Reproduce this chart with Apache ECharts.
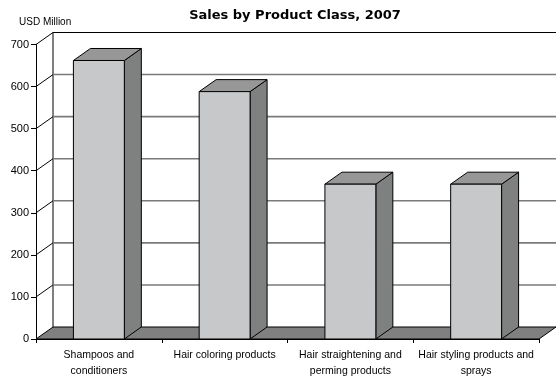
<!DOCTYPE html>
<html><head><meta charset="utf-8">
<script src="https://cdn.jsdelivr.net/npm/echarts@6.0.0/dist/echarts.min.js"></script>
<style>html,body{margin:0;padding:0;background:#fff}#c{width:556px;height:379px}</style>
</head><body><div id="c"></div>
<script>
const categories = ['Shampoos and\nconditioners', 'Hair coloring products', 'Hair straightening and\nperming products', 'Hair styling products and\nsprays'];
const sales = [662, 588, 368, 368];
const yTicks = [0, 100, 200, 300, 400, 500, 600, 700];
const titleText = 'Sales by Product Class, 2007';
const unitText = 'USD Million';

const DX = 17, DY = -12;
const chart = echarts.init(document.getElementById('c'));

function wallItem(params, api) {
  const v = api.value(1);
  const bw = api.size([1, 0])[0];
  const p = api.coord([0, v]);
  const left = p[0] - bw / 2;
  const right = api.coord([categories.length - 1, v])[0] + bw / 2;
  const y = p[1];
  const children = [];
  if (v === 0) {
    const yTop = api.coord([0, yTicks[yTicks.length - 1]])[1];
    children.push({type: 'polygon', shape: {points: [[left, y], [right, y], [right + DX, y + DY], [left + DX, y + DY]]},
      style: {fill: '#808080', stroke: '#000', lineWidth: 1}});
    children.push({type: 'line', shape: {x1: left + DX, y1: y + DY, x2: left + DX, y2: yTop + DY}, style: {stroke: '#000', lineWidth: 1}});
  } else {
    const top = v === yTicks[yTicks.length - 1];
    children.push({type: 'line', shape: {x1: left + DX, y1: y + DY, x2: right + DX, y2: y + DY},
      style: {stroke: top ? '#000' : '#7a7a7a', lineWidth: top ? 1.2 : 1.6}});
    children.push({type: 'line', shape: {x1: left, y1: y, x2: left + DX, y2: y + DY}, style: {stroke: '#000', lineWidth: 1}});
  }
  return {type: 'group', children};
}

function barItem(params, api) {
  const i = api.value(0), v = api.value(1);
  const bw = api.size([1, 0])[0];
  const w = bw * 0.405;
  const c = api.coord([i, v]);
  const b = api.coord([i, 0]);
  const x0 = c[0] - w / 2, x1 = c[0] + w / 2, yT = c[1], yB = b[1];
  const st = {stroke: '#000', lineWidth: 1};
  return {type: 'group', children: [
    {type: 'polygon', shape: {points: [[x1, yT], [x1 + DX, yT + DY], [x1 + DX, yB + DY], [x1, yB]]}, style: Object.assign({fill: '#7f8181'}, st)},
    {type: 'polygon', shape: {points: [[x0, yT], [x1, yT], [x1 + DX, yT + DY], [x0 + DX, yT + DY]]}, style: Object.assign({fill: '#979797'}, st)},
    {type: 'rect', shape: {x: x0, y: yT, width: w, height: yB - yT}, style: Object.assign({fill: '#c7c8c9'}, st)}
  ]};
}

chart.setOption({
  animation: false,
  backgroundColor: '#fff',
  title: [
    {text: titleText, left: 290, top: 4, textAlign: 'center',
      textStyle: {fontFamily: 'DejaVu Sans', fontWeight: 'bold', fontSize: 13, color: '#000'}},
    {text: unitText, left: 14, top: 12,
      textStyle: {fontFamily: 'Liberation Sans', fontWeight: 'normal', fontSize: 10, color: '#000'}}
  ],
  grid: {left: 36, right: 17, top: 44.5, bottom: 38},
  xAxis: {
    type: 'category', data: categories, boundaryGap: true,
    axisLine: {show: true, lineStyle: {color: '#000', width: 1}},
    axisTick: {show: true, length: 4, lineStyle: {color: '#000'}},
    axisLabel: {interval: 0, margin: 8, fontFamily: 'Liberation Sans', fontSize: 10.5, lineHeight: 16, color: '#000'}
  },
  yAxis: {
    type: 'value', min: 0, max: 700, interval: 100,
    axisLine: {show: true, lineStyle: {color: '#000', width: 1}},
    axisTick: {show: true, length: 5, lineStyle: {color: '#000'}},
    axisLabel: {margin: 7, fontFamily: 'Liberation Sans', fontSize: 11, color: '#000'},
    splitLine: {show: false}
  },
  series: [
    {type: 'custom', renderItem: wallItem, data: yTicks.map(v => [0, v]), encode: {x: 0, y: 1}, z: 1, silent: true},
    {type: 'custom', renderItem: barItem, data: sales.map((v, i) => [i, v]), encode: {x: 0, y: 1}, z: 2, silent: true}
  ]
});
</script></body></html>
